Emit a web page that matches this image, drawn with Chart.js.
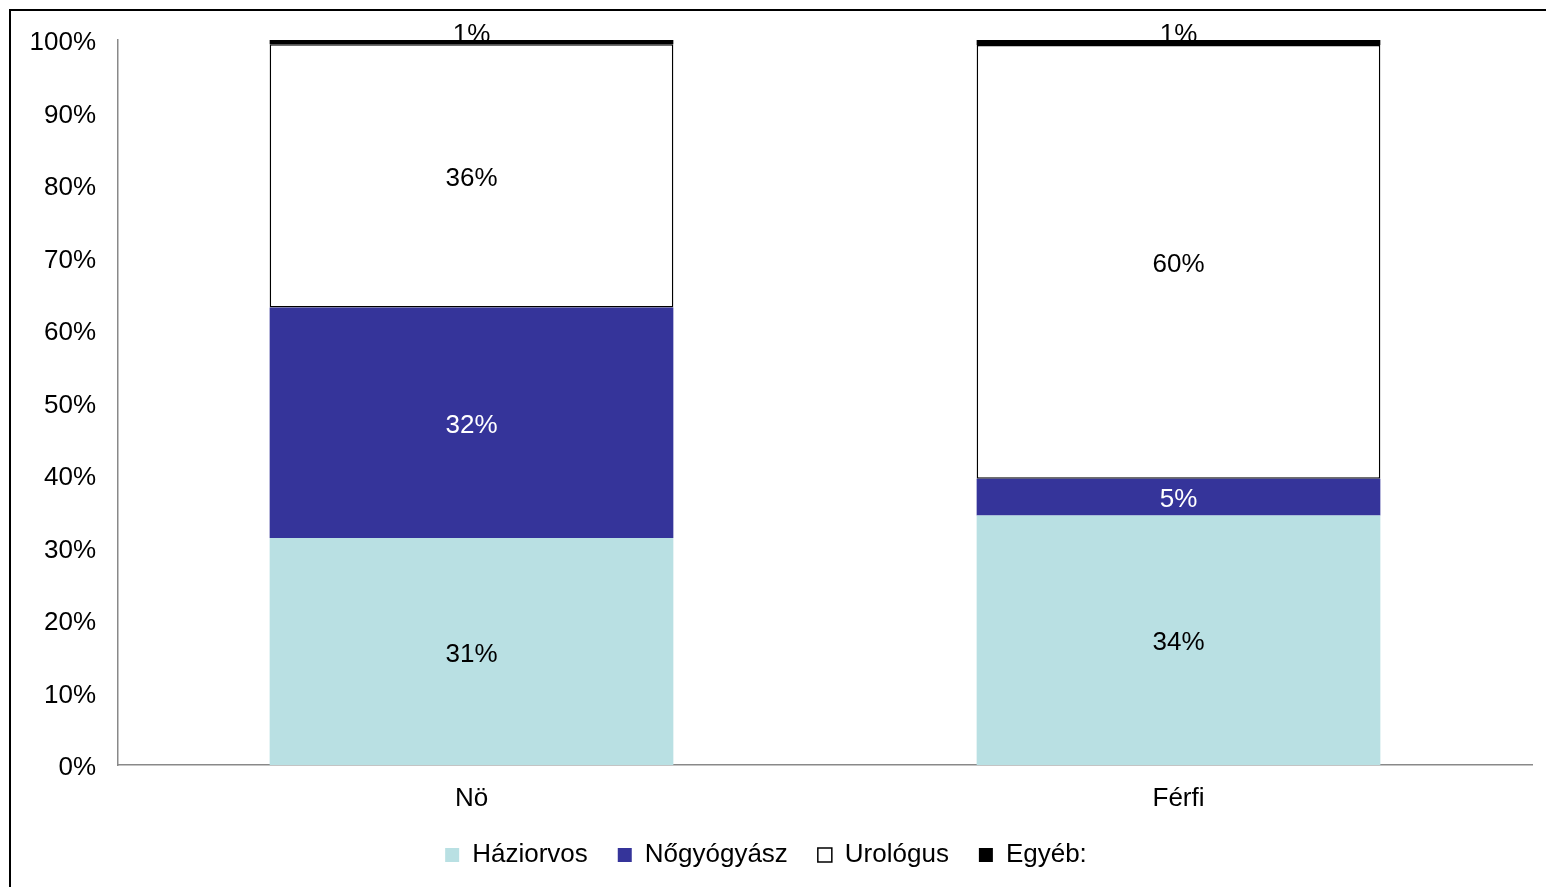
<!DOCTYPE html>
<html>
<head>
<meta charset="utf-8">
<script src="https://cdn.jsdelivr.net/npm/chart.js@4/dist/chart.umd.min.js"></script>
<style>
  body { margin: 0; background: #fff; }
  #frame { position: absolute; left: 9px; top: 9px; width: 1537px; height: 878px;
           border-top: 2px solid #000; border-left: 2px solid #000; }
  #chart { position: absolute; left: 0; top: 0; }
</style>
</head>
<body>
<div id="frame"></div>
<canvas id="chart" width="1546" height="887"></canvas>
<script>
const categories = ['Nö', 'Férfi'];
const haziorvos = [31.3, 34.4];
const nogyogyasz = [31.8, 5.1];
const urologus = [36.3, 59.8];
const egyeb = [0.6, 0.7];
const yTicks = [0, 10, 20, 30, 40, 50, 60, 70, 80, 90, 100];

const FONT = 'Liberation Sans, Arial, sans-serif';

// segment labels, small segments get their label just above the bar top
const segmentLabels = {
    id: 'segmentLabels',
    drawLabels(chart, small) {
        const ctx = chart.ctx;
        ctx.save();
        ctx.font = '26px ' + FONT;
        ctx.textAlign = 'center';
        ctx.textBaseline = 'middle';
        chart.data.datasets.forEach((ds, i) => {
            const meta = chart.getDatasetMeta(i);
            meta.data.forEach((bar, j) => {
                const h = Math.abs(bar.base - bar.y);
                const isSmall = h < 20;
                if (isSmall !== small) return;
                const y = isSmall ? bar.y - 5 : (bar.y + bar.base) / 2 + 3;
                ctx.fillStyle = i === 1 ? '#ffffff' : '#000000';
                ctx.fillText(Math.round(ds.data[j]) + '%', bar.x, y);
            });
        });
        ctx.restore();
    },
    beforeDatasetsDraw(chart) { this.drawLabels(chart, true); },
    afterDatasetsDraw(chart) { this.drawLabels(chart, false); }
};

const ctx = document.getElementById('chart').getContext('2d');
const chart = new Chart(ctx, {
    type: 'bar',
    data: {
        labels: categories,
        datasets: [
            {
                label: 'Háziorvos',
                data: haziorvos,
                backgroundColor: '#b9e0e3',
                borderWidth: 0
            },
            {
                label: 'Nőgyógyász',
                data: nogyogyasz,
                backgroundColor: '#35349a',
                borderWidth: 0
            },
            {
                label: 'Urológus',
                data: urologus,
                backgroundColor: '#ffffff',
                borderColor: '#000000',
                borderWidth: 1.5,
                borderSkipped: false
            },
            {
                label: 'Egyéb:',
                data: egyeb,
                backgroundColor: '#000000',
                borderColor: '#000000',
                borderWidth: 0
            }
        ]
    },
    options: {
        responsive: false,
        animation: false,
        layout: {
            padding: { left: 0, top: 40, right: 14, bottom: 9 }
        },
        datasets: {
            bar: {
                categoryPercentage: 1,
                barPercentage: 0.571
            }
        },
        plugins: {
            legend: {
                position: 'bottom',
                labels: {
                    boxWidth: 14,
                    boxHeight: 14,
                    padding: 30,
                    color: '#000',
                    font: { family: FONT, size: 26 }
                }
            },
            tooltip: { enabled: false }
        },
        scales: {
            x: {
                stacked: true,
                grid: { display: false, drawTicks: false },
                border: { color: '#898989', width: 1.5 },
                ticks: {
                    padding: 18,
                    color: '#000',
                    font: { family: FONT, size: 26 }
                },
                afterFit(scale) { scale.height = 47; }
            },
            y: {
                stacked: true,
                min: 0,
                max: 100,
                afterBuildTicks(scale) { scale.ticks = yTicks.map(v => ({ value: v })); },
                grid: { display: false, drawTicks: false },
                border: { color: '#898989', width: 1.5 },
                ticks: {
                    padding: 22,
                    labelOffset: 3,
                    color: '#000',
                    font: { family: FONT, size: 26 },
                    callback: v => v + '%'
                },
                afterFit(scale) { scale.width = 118; }
            }
        }
    },
    plugins: [segmentLabels]
});
</script>
</body>
</html>
